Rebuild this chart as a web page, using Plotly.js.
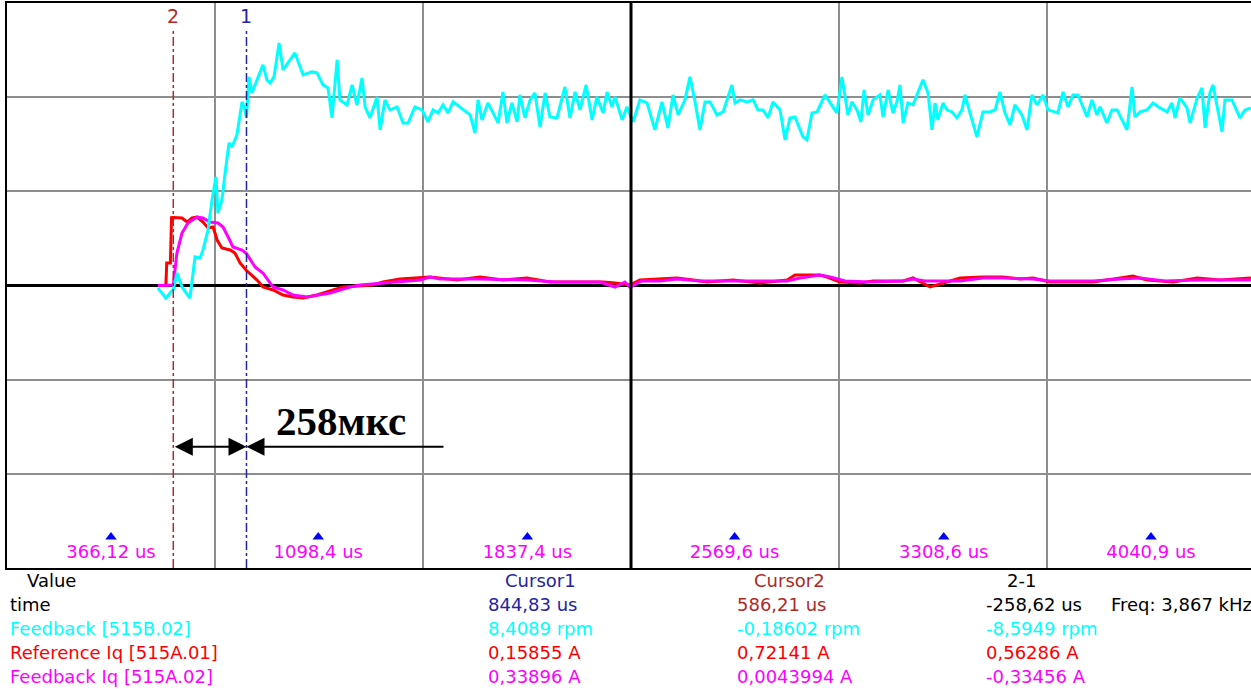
<!DOCTYPE html>
<html>
<head>
<meta charset="utf-8">
<script src="https://cdn.plot.ly/plotly-3.0.1.min.js"></script>
<style>
  html, body { margin: 0; padding: 0; background: #ffffff; overflow: hidden; }
  #scope { width: 1251px; height: 689px; }
</style>
</head>
<body>
<div id="scope"></div>
<script>
// ---- Captured signals -------------------------------------------------------
// Speed feedback [515B.02], rpm
const speedTimeUs = [
  532, 560, 586.21, 600, 617, 645, 663, 681, 691, 709, 723, 737, 744, 758, 772, 783, 794, 811, 829, 836,
  844.83, 854, 864, 878, 903, 917, 928, 942, 960, 974, 1016, 1045, 1076, 1094, 1115, 1133, 1147, 1165, 1175, 1200,
  1218, 1235, 1253, 1264, 1281, 1306, 1317, 1334, 1352, 1377, 1398, 1416, 1440, 1465, 1486, 1504, 1522, 1539, 1557, 1575,
  1599, 1635, 1652, 1663, 1677, 1698, 1716, 1734, 1751, 1765, 1783, 1801, 1811, 1829, 1847, 1864, 1882, 1900, 1917, 1942,
  1970, 1988, 2006, 2023, 2045, 2066, 2083, 2105, 2119, 2136, 2147, 2172, 2189, 2211, 2235, 2260, 2288, 2313, 2334, 2352,
  2370, 2394, 2412, 2430, 2447, 2465, 2483, 2507, 2529, 2560, 2571, 2589, 2613, 2635, 2652, 2670, 2688, 2705, 2730, 2748,
  2765, 2783, 2811, 2825, 2843, 2861, 2889, 2907, 2931, 2949, 2970, 2984, 3002, 3016, 3027, 3041, 3059, 3083, 3094, 3112,
  3129, 3143, 3154, 3165, 3182, 3200, 3218, 3235, 3253, 3267, 3278, 3288, 3306, 3320, 3338, 3355, 3373, 3384, 3401, 3426,
  3447, 3472, 3490, 3507, 3525, 3543, 3560, 3585, 3603, 3620, 3638, 3659, 3677, 3712, 3730, 3748, 3765, 3783, 3815, 3832,
  3850, 3861, 3885, 3903, 3921, 3942, 3956, 3974, 3984, 4002, 4027, 4048, 4073, 4098, 4115, 4126, 4143, 4168, 4179, 4204,
  4221, 4232, 4249, 4260, 4278, 4292, 4302, 4327, 4355, 4373, 4394
];
const speedRpm = [
  -0.13, -0.63, -0.18602, 0.63, -0.08, -0.63, 1.43, 1.38, 1.78, 2.78, 4.28, 5.43, 3.63, 4.28, 5.93, 7.13, 6.93, 7.53, 9.18, 8.93,
  8.4089, 10.43, 9.63, 10.13, 11.03, 10.28, 10.13, 10.43, 12.13, 10.78, 11.63, 10.53, 10.68, 10.63, 10.03, 9.88, 8.38, 11.28, 9.28, 9.03,
  10.03, 9.03, 10.38, 8.93, 8.38, 9.43, 7.78, 9.28, 8.78, 8.93, 8.13, 8.13, 8.93, 8.78, 8.18, 8.78, 8.63, 9.03, 8.63, 9.18,
  8.93, 8.53, 7.63, 9.28, 8.28, 9.13, 8.63, 8.13, 9.68, 8.13, 9.13, 8.18, 9.53, 8.38, 9.28, 9.63, 7.93, 9.63, 8.43, 8.38,
  9.93, 8.38, 9.68, 8.78, 10.03, 8.28, 9.43, 8.63, 9.68, 8.93, 9.43, 8.28, 8.93, 8.18, 9.28, 9.13, 7.78, 9.18, 7.88, 9.53,
  8.53, 9.28, 10.43, 9.18, 7.78, 9.18, 9.18, 8.53, 8.68, 10.03, 9.13, 9.28, 9.18, 9.28, 8.78, 8.78, 8.38, 9.18, 8.78, 7.28,
  8.38, 8.43, 7.43, 7.28, 8.63, 8.68, 9.53, 9.13, 8.63, 10.43, 8.53, 9.18, 8.78, 8.18, 9.78, 8.53, 9.28, 9.53, 8.43, 9.78,
  8.63, 9.18, 10.03, 8.13, 9.13, 9.03, 9.63, 10.28, 9.63, 7.78, 9.13, 8.28, 9.13, 8.78, 8.68, 8.38, 8.78, 9.53, 8.63, 7.43,
  8.68, 8.68, 8.78, 9.68, 8.63, 8.03, 9.03, 8.53, 7.78, 9.53, 9.03, 9.53, 8.78, 8.63, 9.68, 8.93, 9.53, 9.53, 8.43, 9.28,
  8.53, 8.93, 8.13, 8.78, 8.78, 8.13, 7.78, 9.93, 8.43, 8.68, 8.78, 9.13, 8.88, 8.68, 9.13, 8.38, 9.38, 8.88, 8.13, 9.38,
  9.88, 7.88, 9.63, 10.03, 8.78, 7.68, 9.28, 9.28, 8.38, 8.78, 8.88
];

// Reference Iq [515A.01], A
const iqRefTimeUs = [
  532, 560, 563, 576, 580, 586.21, 617, 635, 652, 670, 691, 709, 727, 741, 758, 787, 804, 822, 844.83, 864,
  882, 903, 939, 974, 1009, 1045, 1094, 1151, 1186, 1292, 1327, 1387, 1458, 1493, 1589, 1670, 1751, 1836, 1917, 2023,
  2105, 2147, 2200, 2235, 2366, 2423, 2472, 2564, 2659, 2755, 2783, 2871, 2896, 2942, 3013, 3059, 3165, 3200, 3260, 3320,
  3366, 3447, 3518, 3578, 3624, 3684, 3836, 3932, 3977, 4027, 4119, 4204, 4285, 4394
];
const iqRefA = [
  0, 0, 0.24, 0.24, 0.72, 0.72141, 0.717, 0.674, 0.717, 0.727, 0.674, 0.611, 0.621, 0.483, 0.398, 0.377, 0.345, 0.239, 0.15855, 0.111,
  0.058, -0.016, -0.048, -0.101, -0.122, -0.133, -0.101, -0.048, -0.016, 0.005, 0.037, 0.069, 0.080, 0.090, 0.058, 0.090, 0.058, 0.080, 0.037, 0.037,
  0.037, 0.027, 0.005, 0.058, 0.080, 0.058, 0.037, 0.058, 0.027, 0.058, 0.111, 0.111, 0.090, 0.037, 0.027, 0.048, 0.048, 0.080, -0.016, 0.037,
  0.080, 0.090, 0.090, 0.069, 0.080, 0.037, 0.037, 0.080, 0.101, 0.058, 0.037, 0.080, 0.058, 0.080
];

// Feedback Iq [515A.02], A
const iqFbTimeUs = [
  532, 580, 586.21, 599, 617, 638, 670, 691, 716, 744, 762, 780, 797, 829, 844.83, 875, 903, 921, 939, 974,
  1009, 1059, 1094, 1140, 1175, 1211, 1246, 1327, 1387, 1458, 1493, 1529, 1670, 1836, 1935, 2094, 2147, 2182, 2200, 2240,
  2306, 2366, 2447, 2564, 2659, 2755, 2801, 2871, 2907, 2960, 3048, 3165, 3200, 3242, 3366, 3447, 3518, 3624, 3684, 3836,
  3932, 4002, 4090, 4204, 4394
];
const iqFbA = [
  0, 0, 0.0043994, 0.345, 0.558, 0.664, 0.727, 0.717, 0.674, 0.664, 0.621, 0.515, 0.409, 0.377, 0.33896, 0.196, 0.133, 0.058, -0.016, -0.048,
  -0.101, -0.122, -0.101, -0.080, -0.048, -0.016, 0.005, 0.027, 0.037, 0.058, 0.090, 0.069, 0.069, 0.058, 0.037, 0.037, -0.016, 0.037, -0.020, 0.048,
  0.048, 0.069, 0.048, 0.048, 0.048, 0.048, 0.080, 0.111, 0.090, 0.048, 0.037, 0.048, 0.069, 0.048, 0.048, 0.080, 0.080, 0.069, 0.048, 0.048,
  0.069, 0.080, 0.048, 0.058, 0.058
];

// Time markers along the bottom of the screen
const markerTimesUs = [366.12, 1098.4, 1837.4, 2569.6, 3308.6, 4040.9];
const markerLabels = ['366,12 us', '1098,4 us', '1837,4 us', '2569,6 us', '3308,6 us', '4040,9 us'];

// Cursors
const cursor1TimeUs = 844.83;
const cursor2TimeUs = 586.21;
const intervalLabel = '258мкс';

// Readout table
const rowNames = ['time', 'Feedback [515B.02]', 'Reference Iq [515A.01]', 'Feedback Iq [515A.02]'];
const cursor1Values = ['844,83 us', '8,4089 rpm', '0,15855 A', '0,33896 A'];
const cursor2Values = ['586,21 us', '-0,18602 rpm', '0,72141 A', '0,0043994 A'];
const deltaValues = ['-258,62 us', '-8,5949 rpm', '0,56286 A', '-0,33456 A'];
const freqLabel = 'Freq: 3,867 kHz';

// ---- Screen scaling ----------------------------------------------------------
const X_START = -1.4;          // us at the left edge
const X_DIV = 734.96;          // us per horizontal division
const X_END = X_START + X_DIV * 1244 / 208;   // visible window (right edge clipped)
const IQ_DIV = 1.0;            // A per vertical division
const SPEED_DIV = 4.7085;      // rpm per vertical division

const CYAN = '#00ffff', RED = '#ff0000', MAGENTA = '#ff00ff';
const C1 = '#2424a0', C2 = '#b02828';
const TXT_FONT = 'DejaVu Sans, Verdana, sans-serif';

// pixel helpers for the readout area below the plot
const PLOT_L = 7, PLOT_W = 1244, PLOT_B = 568, PLOT_H = 565;
const px2x = p => (p - PLOT_L) / PLOT_W;
const px2y = p => (PLOT_B - p) / PLOT_H;

const traces = [
  { x: iqRefTimeUs, y: iqRefA, type: 'scatter', mode: 'lines', yaxis: 'y',
    line: { color: RED, width: 3 }, name: 'Reference Iq [515A.01]' },
  { x: iqFbTimeUs, y: iqFbA, type: 'scatter', mode: 'lines', yaxis: 'y',
    line: { color: MAGENTA, width: 3 }, name: 'Feedback Iq [515A.02]' },
  { x: speedTimeUs, y: speedRpm, type: 'scatter', mode: 'lines', yaxis: 'y2',
    line: { color: CYAN, width: 3 }, name: 'Feedback [515B.02]' },
  { x: markerTimesUs, y: markerTimesUs.map(() => -2.67 * IQ_DIV), type: 'scatter',
    mode: 'markers+text', yaxis: 'y', text: markerLabels, textposition: 'bottom center',
    textfont: { family: TXT_FONT, size: 18, color: MAGENTA },
    marker: { symbol: 'triangle-up', size: 10, color: '#0000ff' }, cliponaxis: false }
];

const arrowY = -1.712 * IQ_DIV;
const annotations = [
  { x: cursor2TimeUs, y: 1.0, xref: 'x', yref: 'paper', text: '2', showarrow: false,
    yanchor: 'top', font: { family: TXT_FONT, size: 19, color: C2 } },
  { x: cursor1TimeUs, y: 1.0, xref: 'x', yref: 'paper', text: '1', showarrow: false,
    yanchor: 'top', font: { family: TXT_FONT, size: 19, color: C1 } },
  { x: 1180, y: -1.44 * IQ_DIV, xref: 'x', yref: 'y', text: '<b>' + intervalLabel + '</b>',
    showarrow: false, font: { family: 'Liberation Serif, Times New Roman, serif', size: 41, color: '#000' } },
  { x: cursor1TimeUs, y: arrowY, ax: cursor2TimeUs, ay: arrowY, xref: 'x', yref: 'y',
    axref: 'x', ayref: 'y', text: '', showarrow: true, arrowside: 'end+start',
    arrowhead: 2, startarrowhead: 2, arrowsize: 1.8, startarrowsize: 1.8, arrowwidth: 2, arrowcolor: '#000' },
  { x: cursor1TimeUs, y: arrowY, ax: 1546, ay: arrowY, xref: 'x', yref: 'y',
    axref: 'x', ayref: 'y', text: '', showarrow: true,
    arrowhead: 2, arrowsize: 1.8, arrowwidth: 2, arrowcolor: '#000' }
];

// readout table
const rowPx = [604, 628, 652, 676];
const rowColors = ['#000000', CYAN, RED, MAGENTA];
function cell(text, xpx, ypx, color, anchor) {
  annotations.push({ x: px2x(xpx), y: px2y(ypx), xref: 'paper', yref: 'paper', text: text,
    showarrow: false, xanchor: anchor || 'left', yanchor: 'middle',
    font: { family: TXT_FONT, size: 18, color: color } });
}
cell('Value', 25, 580, '#000');
cell('Cursor1', 540, 580, C1, 'center');
cell('Cursor2', 789, 580, C2, 'center');
cell('2-1', 1021, 580, '#000', 'center');
rowNames.forEach((n, i) => {
  cell(n, 8, rowPx[i], rowColors[i]);
  cell(cursor1Values[i], 486, rowPx[i], i === 0 ? C1 : rowColors[i]);
  cell(cursor2Values[i], 735, rowPx[i], i === 0 ? C2 : rowColors[i]);
  cell(deltaValues[i], 984, rowPx[i], rowColors[i]);
});
cell(freqLabel, 1109, 604, '#000');

const shapes = [
  // screen centre line
  { type: 'line', xref: 'x', yref: 'paper', x0: X_START + 3 * X_DIV, x1: X_START + 3 * X_DIV,
    y0: 0, y1: 1, line: { color: '#000', width: 3 }, layer: 'above' },
  // cursors
  { type: 'line', xref: 'x', yref: 'paper', x0: cursor2TimeUs, x1: cursor2TimeUs, y0: 0, y1: 0.955,
    line: { color: C2, width: 1.5, dash: 'dashdot' }, layer: 'above' },
  { type: 'line', xref: 'x', yref: 'paper', x0: cursor1TimeUs, x1: cursor1TimeUs, y0: 0, y1: 0.955,
    line: { color: C1, width: 1.5, dash: 'dashdot' }, layer: 'above' }
];

const layout = {
  width: 1251, height: 689,
  margin: { l: PLOT_L, r: 0, t: 3, b: 121, pad: 0 },
  paper_bgcolor: '#ffffff', plot_bgcolor: '#ffffff',
  showlegend: false, hovermode: false,
  xaxis: {
    range: [X_START, X_END], tickmode: 'linear', tick0: X_START, dtick: X_DIV,
    showgrid: true, gridcolor: '#8e8e8e', gridwidth: 2, zeroline: false,
    showticklabels: false, ticks: '', showline: true, mirror: true,
    linecolor: '#000', linewidth: 2, fixedrange: true
  },
  yaxis: {
    range: [-3 * IQ_DIV, 3 * IQ_DIV], tickmode: 'linear', tick0: 0, dtick: IQ_DIV,
    showgrid: true, gridcolor: '#8e8e8e', gridwidth: 2,
    zeroline: true, zerolinecolor: '#000', zerolinewidth: 3,
    showticklabels: false, ticks: '', showline: true, linecolor: '#000', linewidth: 2, fixedrange: true
  },
  yaxis2: {
    range: [-3 * SPEED_DIV, 3 * SPEED_DIV], overlaying: 'y', side: 'right',
    showgrid: false, zeroline: false, showticklabels: false, ticks: '', showline: false, fixedrange: true
  },
  shapes: shapes,
  annotations: annotations
};

Plotly.newPlot('scope', traces, layout, { staticPlot: true, displayModeBar: false });
</script>
</body>
</html>
